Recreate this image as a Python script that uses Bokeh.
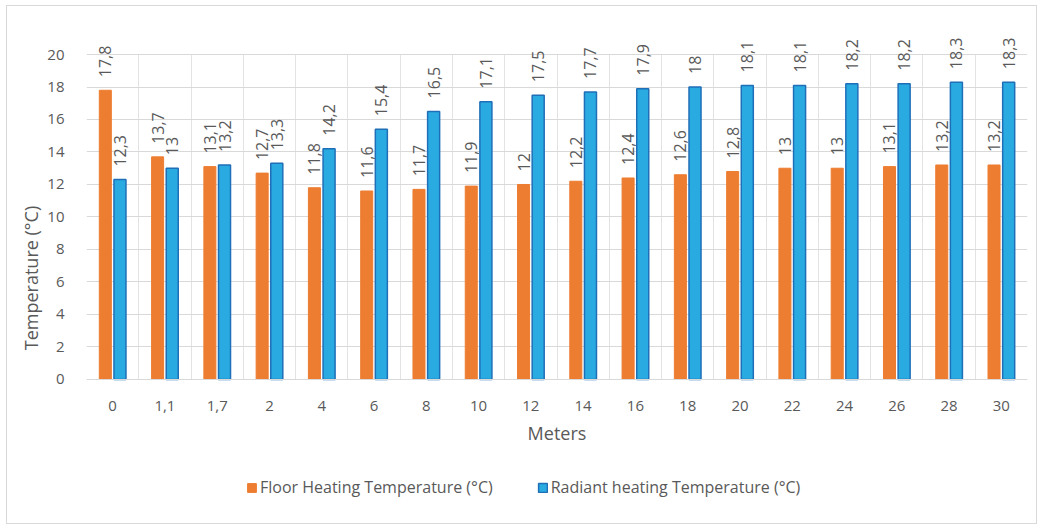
import math
from bokeh.plotting import figure
from bokeh.models import ColumnDataSource, FixedTicker, Legend, LegendItem
from bokeh.core.properties import value
from bokeh.embed import file_html
from bokeh.resources import INLINE

categories = ["0", "1,1", "1,7", "2", "4", "6", "8", "10", "12", "14", "16", "18", "20", "22", "24", "26", "28", "30"]
floor_temp = [17.8, 13.7, 13.1, 12.7, 11.8, 11.6, 11.7, 11.9, 12, 12.2, 12.4, 12.6, 12.8, 13, 13, 13.1, 13.2, 13.2]
radiant_temp = [12.3, 13, 13.2, 13.3, 14.2, 15.4, 16.5, 17.1, 17.5, 17.7, 17.9, 18, 18.1, 18.1, 18.2, 18.2, 18.3, 18.3]
y_ticks = [0, 2, 4, 6, 8, 10, 12, 14, 16, 18, 20]

FONT = "Open Sans"
GRAY = "#595959"
ORANGE = "#ED7D31"
BLUE = "#29ABE2"
BLUE_EDGE = "#1F6FB8"

def fmt(v):
    return ("%g" % v).replace(".", ",")

n = len(categories)
centers = [i + 0.5 for i in range(n)]
off = 0.14
w = 0.23

src_f = ColumnDataSource(dict(x=[c - off for c in centers], top=floor_temp, lab=[fmt(v) for v in floor_temp]))
src_r = ColumnDataSource(dict(x=[c + off for c in centers], top=radiant_temp, lab=[fmt(v) for v in radiant_temp]))

# frame: 16.25 px per degree; extra room above 20 for labels, below 0 for axis & legend
p = figure(width=1031, height=519, x_range=(0, n), y_range=(-8.985, 21.477),
           output_backend="svg", toolbar_location=None,
           min_border_left=79, min_border_top=24, min_border_right=11, min_border_bottom=0)
p.outline_line_color = None
p.margin = (5, 0, 0, 6)
p.styles = {"border": "1px solid #D9D9D9"}

rf = p.vbar(x="x", top="top", bottom=0, width=w, source=src_f, fill_color=ORANGE, line_color=ORANGE, line_width=1)
rr = p.vbar(x="x", top="top", bottom=0, width=w, source=src_r, fill_color=BLUE, line_color=BLUE_EDGE, line_width=1.5)

for src in (src_f, src_r):
    p.text(x="x", y="top", text="lab", source=src, angle=math.pi / 2,
           text_align="left", text_baseline="middle", y_offset=-13,
           text_font=value(FONT), text_font_size="16px", text_color=GRAY)

# axes
p.xaxis.fixed_location = 0
p.xaxis.ticker = FixedTicker(ticks=centers)
p.xaxis.major_label_overrides = {c: lab for c, lab in zip(centers, categories)}
p.yaxis.ticker = FixedTicker(ticks=y_ticks)
p.yaxis.bounds = (0, 20)
for ax in (p.xaxis[0], p.yaxis[0]):
    ax.major_tick_line_color = None
    ax.minor_tick_line_color = None
    ax.major_label_text_font = FONT
    ax.major_label_text_font_size = "15px"
    ax.major_label_text_color = GRAY
    ax.axis_label_text_font = FONT
    ax.axis_label_text_font_size = "18px"
    ax.axis_label_text_font_style = "normal"
    ax.axis_label_text_color = GRAY
p.xaxis.axis_line_color = "#D9D9D9"
p.yaxis.axis_line_color = None
p.xaxis.axis_label = "Meters"
p.yaxis.axis_label = "Temperature (°C)"
p.xaxis.major_label_standoff = 16
p.xaxis.axis_label_standoff = 6
p.yaxis.major_label_standoff = 16
p.yaxis.axis_label_standoff = 1

p.xgrid.ticker = FixedTicker(ticks=list(range(n + 1)))
p.xgrid.grid_line_color = "#E3E3E3"
try:
    p.xgrid.cross_bounds = (0, 20)
except AttributeError:
    pass
p.ygrid.grid_line_color = "#D9D9D9"

legend = Legend(items=[LegendItem(label="Floor Heating Temperature (°C)", renderers=[rf]),
                       LegendItem(label="Radiant heating Temperature (°C)", renderers=[rr])],
                orientation="horizontal", location=(160, 27),
                label_text_font=FONT, label_text_font_size="16px", label_text_color=GRAY,
                glyph_width=11, glyph_height=11, spacing=44, label_standoff=3,
                border_line_color=None, background_fill_alpha=0, margin=0, padding=0)
p.add_layout(legend, "center")

open("out.html", "w").write(file_html(p, INLINE))
